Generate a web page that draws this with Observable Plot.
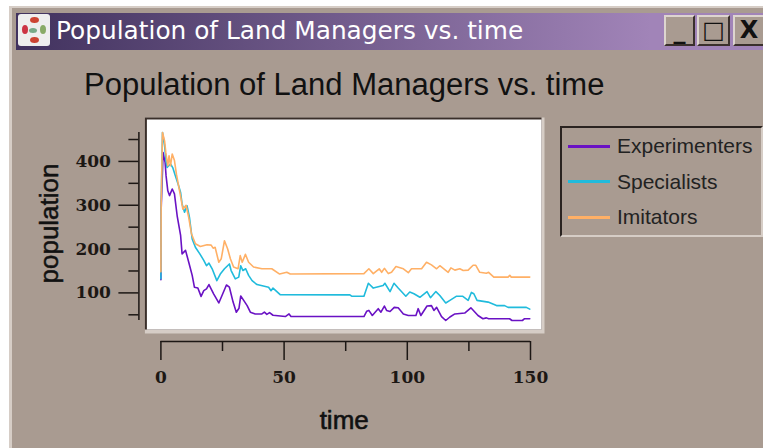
<!DOCTYPE html>
<html><head><meta charset="utf-8">
<script src="https://cdn.jsdelivr.net/npm/d3@7"></script>
<script src="https://cdn.jsdelivr.net/npm/@observablehq/plot@0.6"></script>
<style>
html,body{margin:0;padding:0;background:#fff;overflow:hidden}
#win{position:absolute;left:0;top:0;width:763px;height:448px;overflow:hidden;background:#fff}
#body{position:absolute;left:9px;top:6px;width:754px;height:442px;background:#a99b91;border-left:3px solid #d6cdc6;border-top:2px solid #d6cdc6;box-sizing:border-box}
#bar{position:absolute;left:16px;top:13px;width:747px;height:37px;background:linear-gradient(90deg,#41325e 0%,#a184b8 85%,#a184b8 100%)}
#bartext{position:absolute;left:56px;top:15px;font:24.8px/32px "DejaVu Sans",sans-serif;color:#fff;white-space:nowrap}
#icon{position:absolute;left:18px;top:14px;width:32px;height:32px;background:#eee;border-radius:3px;overflow:hidden}
#icon i{position:absolute;border-radius:50%}
.btn{position:absolute;top:15px;height:31px;background:#a99b91;box-sizing:border-box;border:2px solid;border-color:#ddd5cf #3a302c #3a302c #ddd5cf;font:bold 24px/27px "DejaVu Sans",sans-serif;color:#111;text-align:center}
#title{position:absolute;left:84px;top:66px;font:31px/38px "Liberation Sans",Arial,sans-serif;color:#111;white-space:nowrap}
#legend{position:absolute;left:560px;top:126px;width:203px;height:111px;box-sizing:border-box;border-left:2px solid #2a2320;border-top:2px solid #2a2320;border-bottom:2px solid #d6cdc6;border-right:2px solid #d6cdc6}
.li{position:absolute;left:55px;font:21px/24px "Liberation Sans",Arial,sans-serif;color:#222;white-space:nowrap}
.sw{position:absolute;left:6px;width:42px;height:3px}
#chart{position:absolute;left:0;top:0}
</style></head><body>
<div id="win">
<div id="body"></div>
<div id="bar"></div>
<div id="icon"><i style="left:12px;top:3px;width:9px;height:6px;background:#c43"></i><i style="left:4px;top:11px;width:6px;height:9px;background:#c34"></i><i style="left:22px;top:11px;width:6px;height:9px;background:#8a6"></i><i style="left:11px;top:14px;width:8px;height:5px;background:#7a8"></i><i style="left:12px;top:23px;width:9px;height:6px;background:#c43"></i></div>
<div id="bartext">Population of Land Managers vs. time</div>
<div class="btn" style="left:664px;width:31px">_</div>
<div class="btn" style="left:697px;width:33px">□</div>
<div class="btn" style="left:733px;width:32px">X</div>
<div id="chart"></div>
<div id="title">Population of Land Managers vs. time</div>
<div id="legend"></div>
</div>
<script>
const seriesNames = ["Experimenters", "Specialists", "Imitators"];
const seriesColors = ["#6a12c4", "#20bbdc", "#ffb066"];

const expT = [0,0.1,0.9,1.7,2.1,2.8,3.5,4.6,5.5,6.6,8,8.6,10,11.3,12.7,13.6,15,16.3,17.4,18.5,19.5,21.4,23.5,24.8,26.6,27.8,29.3,30.6,31.7,32.4,33.6,35,36.3,38.3,41,42,43,44.1,45.5,50.5,52,52.8,82.4,83.5,84.4,85.8,88.2,89.3,90.7,91.6,93,94.7,96.3,98.4,100.4,103.5,104.4,105.5,108,109.8,110.8,111.9,113.9,115.6,117.3,119.3,123.3,125.8,128.7,130.7,132.1,133,141.5,142.5,146.7,147.6,149.7];
const expV = [130,291,420,398,367,333,322,337,326,276,231,189,197,170,140,113,111,92,105,109,119,98,77,94,118,113,79,56,65,93,83,71,56,52,52,56,51,55,49,46,52,46,46,58,60,48.5,64,56,70,60,57.6,67,66,52,48.5,48.5,64,48.5,70,71,60,67,46,37,45,52,54,66,48.5,41,43,41,41,37,37,41,41];

const speT = [0,0.1,0.65,1.5,2,2.5,3.2,3.9,4.8,5.9,7,8,8.6,9.6,10.6,11.6,12.7,14,15.8,17.4,18.5,19.5,20.8,22.7,24.1,25.8,27.8,28.5,30.2,31.6,32.4,33.3,34.4,35.6,37,39,43.7,44.7,45.5,48.4,76.7,77.4,82.4,84.2,86.2,90.2,90.9,93,94.6,96.3,99.4,101,102.7,105.1,108,109.4,111.6,113.2,115.6,117.3,120,122.4,124.7,126,127,128.3,132.8,136.2,139.5,140.9,148.3,149.7];
const speV = [132,299,466,436,405,386,390,394,386,367,348,329,303,284,299,272,223,204,189,174,162,168,155,128,143,155,166,151,132,136,162,151,155,140,128,119,113,105,111,96,95.5,92.5,92.5,122,111,117,122,103,122,111,92.5,102,98,90,103,89,103,94,77,83,92.5,92.5,83,101,98,83,79,71,71,67,67,63];

const imiT = [0,0.1,0.65,1.5,2,2.8,3.3,3.9,4.6,5.5,6.3,7.3,8.2,8.9,10.2,11.3,12.4,14,16,18.7,20.4,21.2,22,23.5,24.5,25.8,27.1,28.2,29.5,31.3,32.2,33,34.3,35.6,37.6,41,45,48.2,51.1,52.5,82.4,84.4,86.2,88.6,89.6,90.7,92.3,93.6,95.4,98.4,100.4,101.7,105.8,107.8,109.8,111.9,113.2,116.6,117.7,119.3,121.3,122.7,124.7,126.7,127.8,129.4,132.1,133,135.1,140.9,141.6,142.2,149.7];
const imiV = [148,299,466,447,420,390,413,390,417,402,371,341,314,291,300,272,235,212,206,210,209,202,204,170,178,219,200,178,159,155,185,170,188,170,159,155,155,143,147,143,144,155,144,155,147,156,144,147,160,155,146,155,155,170,164,155,162,147,157,152,155,151,152,163,163,147,145,147,136,136,140,136,136];

const xMajor = [0, 50, 100, 150];
const xMinor = [25, 75, 125];
const yMajor = [100, 200, 300, 400];
const yMinor = [50, 150, 250, 350, 450];

const toRows = (T, V) => T.map((t, i) => ({t, v: V[i]}));
const rows = [toRows(expT, expV), toRows(speT, speV), toRows(imiT, imiV)];

const ink = "#1c1714";
const tickFont = {fontFamily: "DejaVu Serif", fontWeight: "bold"};
const labelFont = "Liberation Sans";

const plot = Plot.plot({
  width: 763, height: 448,
  marginLeft: 160.4, marginRight: 233, marginTop: 132, marginBottom: 128,
  style: {background: "transparent", overflow: "visible"},
  x: {domain: [0, 150], label: null},
  y: {domain: [37, 466], label: null},
  marks: [
    Plot.frame({fill: "#d6cdc6", stroke: null, insetLeft: -16, insetTop: -15, insetRight: -14, insetBottom: -13}),
    Plot.frame({fill: "#3a2f2a", stroke: null, insetLeft: -16, insetTop: -15, insetRight: -11, insetBottom: -9}),
    Plot.frame({fill: "#fff", stroke: null, insetLeft: -14, insetTop: -13, insetRight: -11, insetBottom: -9}),
    ...rows.map((r, i) => Plot.line(r, {x: "t", y: "v", stroke: seriesColors[i], strokeWidth: 1.6, curve: "linear"})),
    Plot.ruleY([37], {x1: 0, x2: 150, dy: 21, stroke: ink, strokeWidth: 1.5}),
    Plot.axisX({anchor: "bottom", ticks: xMajor, tickSize: 19, tickPadding: 10, dy: 21, label: null, stroke: ink, strokeWidth: 1.5, fontSize: 17, fill: ink, ...tickFont}),
    Plot.axisX({anchor: "bottom", ticks: xMinor, tickSize: 10, dy: 21, label: null, text: null, stroke: ink, strokeWidth: 1.5}),
    Plot.ruleX([0], {y1: 37, y2: 466, dx: -22, stroke: ink, strokeWidth: 1.5}),
    Plot.axisY({anchor: "left", ticks: yMajor, tickSize: 20, tickPadding: 8, dx: -22, label: null, stroke: ink, strokeWidth: 1.5, fontSize: 17, fill: ink, ...tickFont}),
    Plot.axisY({anchor: "left", ticks: yMinor, tickSize: 10, dx: -22, label: null, text: null, stroke: ink, strokeWidth: 1.5}),
    Plot.text(["time"], {frameAnchor: "bottom", dx: -1.5, dy: 100, lineAnchor: "middle", fontSize: 26, fontFamily: labelFont, fill: "#111", stroke: "#111", strokeWidth: 0.6}),
    Plot.text(["population"], {frameAnchor: "left", textAnchor: "middle", dx: -111, dy: -3, rotate: -90, fontSize: 26, fontFamily: labelFont, fill: "#111", stroke: "#111", strokeWidth: 0.5})
  ]
});
document.getElementById("chart").appendChild(plot);

const legend = document.getElementById("legend");
seriesNames.forEach((name, i) => {
  const y = 18 + i * 35.5;
  const sw = document.createElement("div");
  sw.className = "sw";
  sw.style.top = (y - 1.5) + "px";
  sw.style.background = seriesColors[i];
  legend.appendChild(sw);
  const li = document.createElement("div");
  li.className = "li";
  li.style.top = (y - 12) + "px";
  li.textContent = name;
  legend.appendChild(li);
});
</script>
</body></html>
